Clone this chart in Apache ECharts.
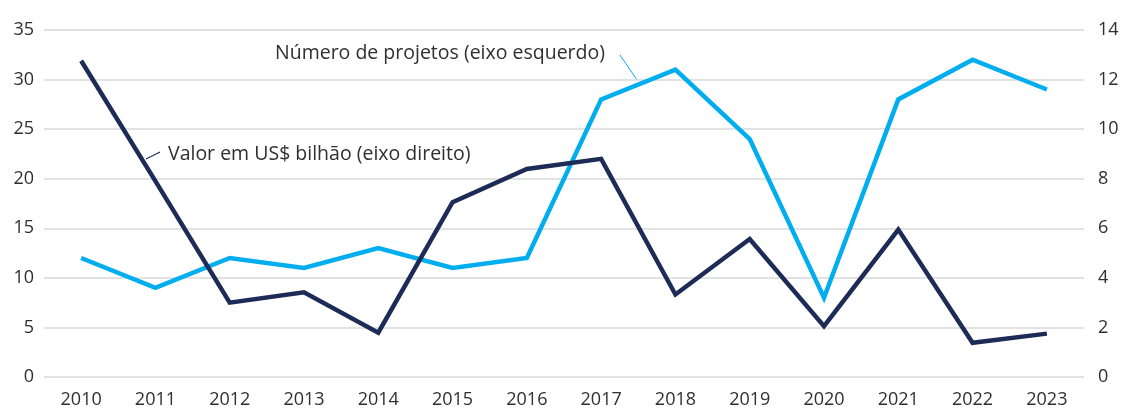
<!DOCTYPE html>
<html>
<head>
<meta charset="utf-8">
<script src="https://cdn.jsdelivr.net/npm/echarts@6/dist/echarts.min.js"></script>
<style>
  html, body { margin: 0; padding: 0; background: #fff; }
  #chart { width: 1125px; height: 409px; }
</style>
</head>
<body>
<div id="chart"></div>
<script>
const years = ['2010', '2011', '2012', '2013', '2014', '2015', '2016', '2017', '2018', '2019', '2020', '2021', '2022', '2023']
// number of projects (left axis)
const projetos = [12, 9, 12, 11, 13, 11, 12, 28, 31, 24, 8, 28, 32, 29]
// value in US$ billion (right axis)
const valor = [12.76, 7.9, 3.0, 3.42, 1.79, 7.05, 8.39, 8.8, 3.33, 5.57, 2.05, 5.95, 1.38, 1.75]
const leftTicks = [0, 5, 10, 15, 20, 25, 30, 35]
const rightTicks = [0, 2, 4, 6, 8, 10, 12, 14]

const lightBlue = '#00AEEF'
const navy = '#1D2B57'
const textColor = '#2f2f2f'
const font = 'Open Sans'

const chart = echarts.init(document.getElementById('chart'))

chart.setOption({
  animation: false,
  textStyle: { fontFamily: font },
  grid: { left: 44, right: 41, top: 30, bottom: 31 },
  xAxis: {
    type: 'category',
    data: years,
    boundaryGap: true,
    axisLine: { show: false },
    axisTick: { show: false },
    axisLabel: { color: textColor, fontSize: 18, fontFamily: font, margin: 14 }
  },
  yAxis: [
    {
      type: 'value',
      min: leftTicks[0],
      max: leftTicks[leftTicks.length - 1],
      interval: 5,
      axisLine: { show: false },
      axisTick: { show: false },
      axisLabel: { color: textColor, fontSize: 18, fontFamily: font, margin: 10 },
      splitLine: { lineStyle: { color: '#d9d9d9', width: 1.5 } }
    },
    {
      type: 'value',
      min: rightTicks[0],
      max: rightTicks[rightTicks.length - 1],
      interval: 2,
      axisLine: { show: false },
      axisTick: { show: false },
      axisLabel: { color: textColor, fontSize: 18, fontFamily: font, margin: 14 },
      splitLine: { show: false }
    }
  ],
  series: [
    {
      name: 'Número de projetos (eixo esquerdo)',
      type: 'line',
      yAxisIndex: 0,
      data: projetos,
      symbol: 'none',
      lineStyle: { color: lightBlue, width: 4.5, join: 'miter' },
      z: 2
    },
    {
      name: 'Valor em US$ bilhão (eixo direito)',
      type: 'line',
      yAxisIndex: 1,
      data: valor,
      symbol: 'none',
      lineStyle: { color: navy, width: 4.5, join: 'miter' },
      z: 3
    }
  ],
  graphic: [
    {
      type: 'text',
      left: 275,
      top: 43,
      style: { text: 'Número de projetos (eixo esquerdo)', fill: textColor, font: '19.5px "' + font + '"' }
    },
    {
      type: 'line',
      shape: { x1: 620, y1: 55, x2: 637, y2: 80 },
      style: { stroke: lightBlue, lineWidth: 1 }
    },
    {
      type: 'text',
      left: 168,
      top: 144,
      style: { text: 'Valor em US$ bilhão (eixo direito)', fill: textColor, font: '19.5px "' + font + '"' }
    },
    {
      type: 'line',
      shape: { x1: 160, y1: 152, x2: 146, y2: 159 },
      style: { stroke: navy, lineWidth: 1.2 }
    }
  ]
})
</script>
</body>
</html>
